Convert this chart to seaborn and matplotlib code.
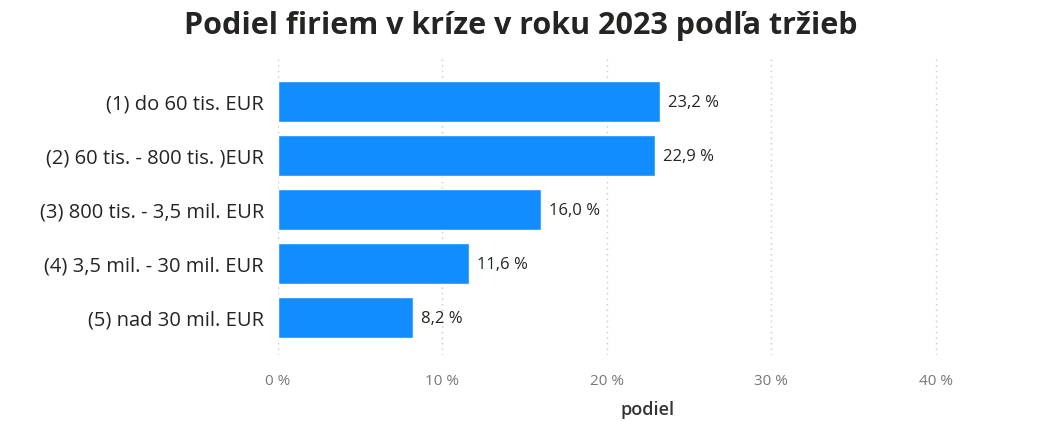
import matplotlib
matplotlib.use("Agg")
import matplotlib.pyplot as plt
import seaborn as sns
import pandas as pd

categories = [
    "(1) do 60 tis. EUR",
    "(2) 60 tis. - 800 tis. )EUR",
    "(3) 800 tis. - 3,5 mil. EUR",
    "(4) 3,5 mil. - 30 mil. EUR",
    "(5) nad 30 mil. EUR",
]
podiel = [23.2, 22.9, 16.0, 11.6, 8.2]
x_ticks = [0, 10, 20, 30, 40]

sns.set_theme(style="white")
plt.rcParams["font.family"] = ["Open Sans", "DejaVu Sans"]

df = pd.DataFrame({"kategoria": categories, "podiel": podiel})

fig = plt.figure(figsize=(10.42, 4.21), dpi=100)
ax = fig.add_axes([0.2668, 0.1568, 0.977 - 0.2668, 0.865 - 0.1568])

sns.barplot(data=df, y="kategoria", x="podiel", color="#118DFF",
            saturation=1, width=0.76, ax=ax)

for i, v in enumerate(podiel):
    ax.text(v + 0.5, i + 0.02, f"{v:.1f} %".replace(".", ","), va="center", ha="left",
            fontsize=12, color="#252423")

ax.set_xlim(0, 45)
ax.set_ylim(4.69, -0.83)
ax.set_xticks(x_ticks)
ax.set_xticklabels([f"{t} %" for t in x_ticks], color="#777777", fontsize=11)
ax.tick_params(axis="y", labelsize=14.5, colors="#252423", length=0, pad=10)
ax.tick_params(axis="x", length=0, pad=14)
ax.xaxis.grid(True, linestyle=(0, (1, 3)), color="#c8c8c8", linewidth=1)
ax.set_axisbelow(True)
sns.despine(ax=ax, left=True, bottom=True)

ax.set_ylabel("")
ax.set_xlabel("podiel", fontsize=13, color="#333333", fontweight="semibold", labelpad=8)

fig.suptitle("Podiel firiem v kríze v roku 2023 podľa tržieb", fontsize=22,
             fontweight="bold", color="#252423", x=0.5, y=0.975)

fig.savefig("out.png", dpi=100)
